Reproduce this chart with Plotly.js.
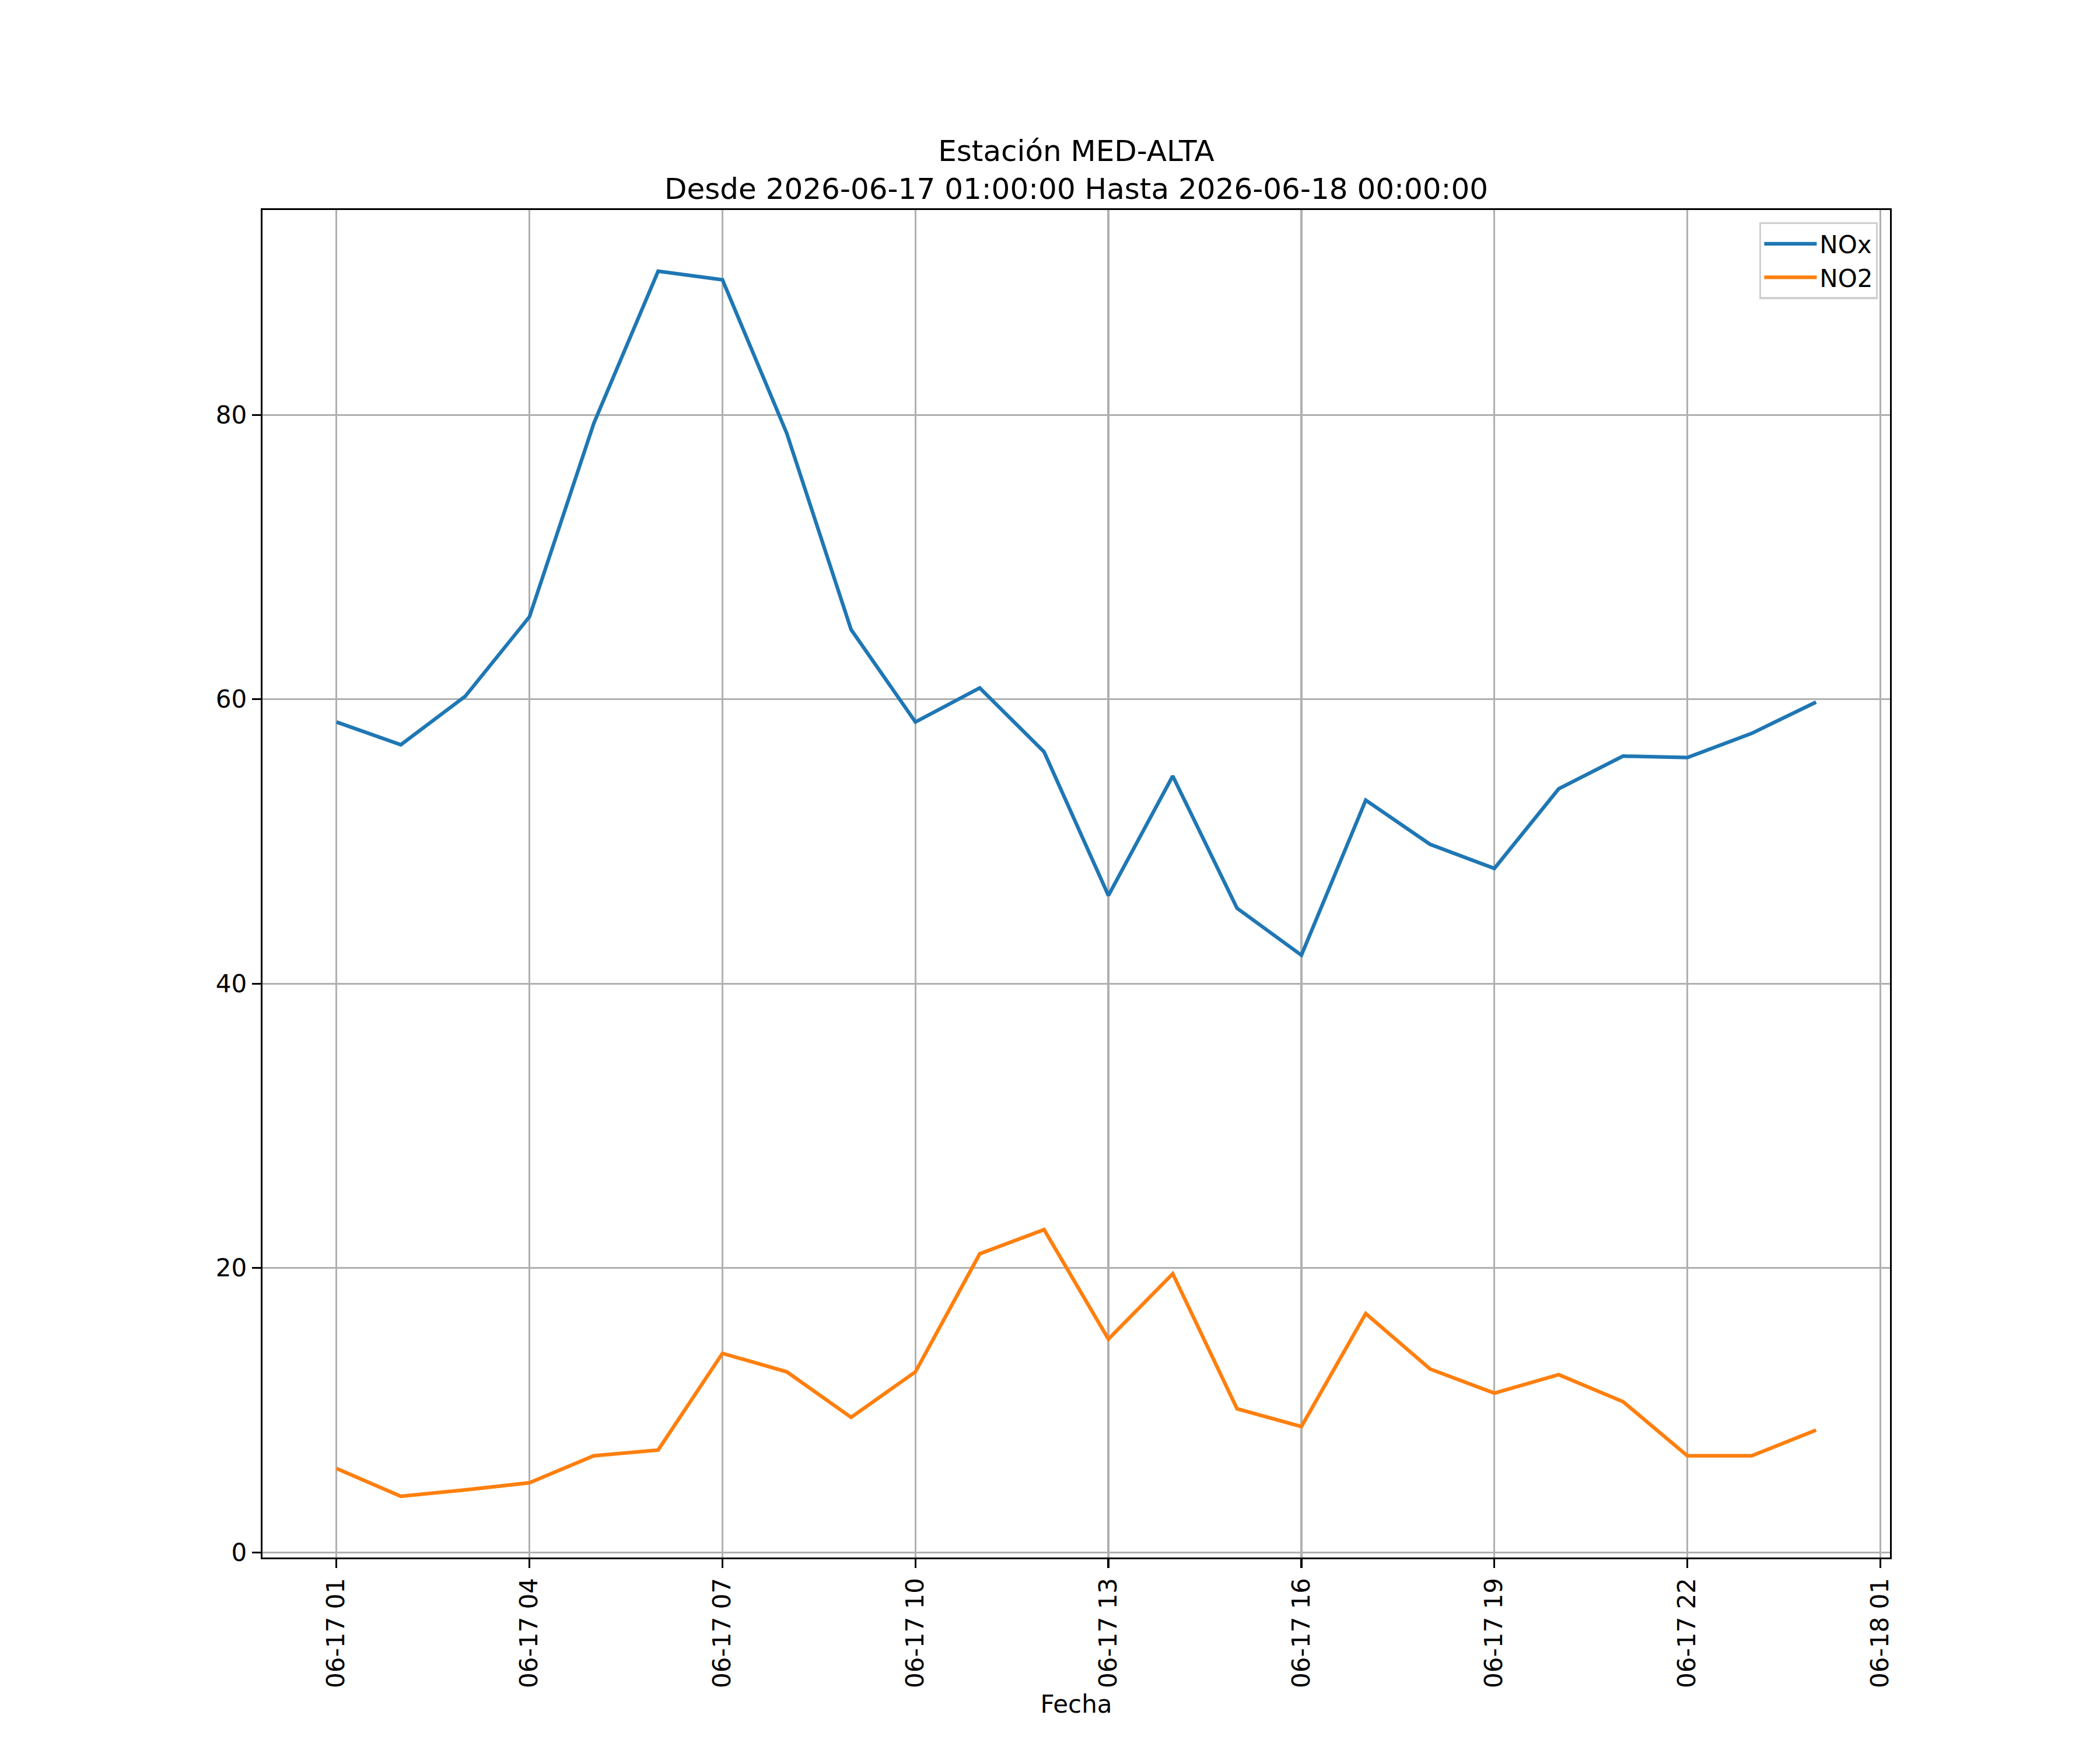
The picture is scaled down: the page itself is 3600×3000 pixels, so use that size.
<!DOCTYPE html>
<html>
<head>
<meta charset="utf-8">
<script src="https://cdn.plot.ly/plotly-3.0.1.min.js"></script>
<style>
  body { margin: 0; background: #fff; }
</style>
</head>
<body>
<div id="chart"></div>
<script>
// hourly readings, 2026-06-17 01:00 .. 2026-06-18 00:00
const hours = [
  "2026-06-17 01:00", "2026-06-17 02:00", "2026-06-17 03:00", "2026-06-17 04:00",
  "2026-06-17 05:00", "2026-06-17 06:00", "2026-06-17 07:00", "2026-06-17 08:00",
  "2026-06-17 09:00", "2026-06-17 10:00", "2026-06-17 11:00", "2026-06-17 12:00",
  "2026-06-17 13:00", "2026-06-17 14:00", "2026-06-17 15:00", "2026-06-17 16:00",
  "2026-06-17 17:00", "2026-06-17 18:00", "2026-06-17 19:00", "2026-06-17 20:00",
  "2026-06-17 21:00", "2026-06-17 22:00", "2026-06-17 23:00", "2026-06-18 00:00",
];
const nox = [
  58.4, 56.8, 60.2, 65.8, 79.4, 90.1, 89.5, 78.7,
  64.9, 58.4, 60.8, 56.3, 46.2, 54.6, 45.3, 42.0,
  52.9, 49.8, 48.1, 53.7, 56.0, 55.9, 57.6, 59.8,
];
const no2 = [
  5.9, 3.95, 4.4, 4.9, 6.8, 7.2, 14.0, 12.7,
  9.5, 12.7, 21.0, 22.7, 15.0, 19.6, 10.1, 8.85,
  16.8, 12.9, 11.2, 12.5, 10.6, 6.8, 6.8, 8.6,
];
const yTicks = [0, 20, 40, 60, 80];

const FONT = "DejaVu Sans, sans-serif";

// matplotlib-like 5% margins around the data
function pad(lo, hi) {
  const m = (hi - lo) * 0.05;
  return [lo - m, hi + m];
}
function toMs(s) {
  return Date.parse(s.replace(" ", "T") + ":00Z");
}
function fmt(ms) {
  return new Date(ms).toISOString().replace("T", " ").slice(0, 19);
}
const xr = pad(toMs(hours[0]), toMs(hours[hours.length - 1]));
const allY = nox.concat(no2);
const yr = pad(Math.min(...allY), Math.max(...allY));

const data = [
  {
    x: hours, y: nox, type: "scatter", mode: "lines", name: "NOx",
    line: { color: "#1f77b4", width: 6.25 },
  },
  {
    x: hours, y: no2, type: "scatter", mode: "lines", name: "NO2",
    line: { color: "#ff7f0e", width: 6.25 },
  },
];

const layout = {
  width: 3600,
  height: 3000,
  margin: { l: 450, r: 360, t: 360, b: 330 },
  paper_bgcolor: "#fff",
  plot_bgcolor: "#fff",
  font: { family: FONT, size: 42, color: "#000" },
  title: {
    text: "Estación MED-ALTA<br>Desde 2026-06-17 01:00:00 Hasta 2026-06-18 00:00:00",
    font: { family: FONT, size: 50, color: "#000" },
    x: 0.5 + (450 - 360) / 2 / 3600,
    xref: "container",
    xanchor: "center",
    y: 1 - 276 / 3000,
    yref: "container",
    yanchor: "top",
  },
  xaxis: {
    type: "date",
    range: [fmt(xr[0]), fmt(xr[1])],
    tick0: "2026-06-17 01:00",
    dtick: 3 * 3600 * 1000,
    tickformat: "%m-%d %H",
    tickangle: -90,
    ticks: "outside",
    ticklen: 15,
    tickwidth: 3.3,
    tickcolor: "#000",
    tickfont: { family: FONT, size: 42, color: "#000" },
    showgrid: true,
    gridcolor: "#b0b0b0",
    gridwidth: 3.3,
    zeroline: false,
    showline: true,
    linecolor: "#000",
    linewidth: 3.3,
    mirror: true,
    title: { text: "Fecha", font: { family: FONT, size: 42, color: "#000" }, standoff: 14 },
  },
  yaxis: {
    range: yr,
    tickvals: yTicks,
    ticks: "outside",
    ticklen: 15,
    tickwidth: 3.3,
    tickcolor: "#000",
    tickfont: { family: FONT, size: 42, color: "#000" },
    showgrid: true,
    gridcolor: "#b0b0b0",
    gridwidth: 3.3,
    zeroline: false,
    showline: true,
    linecolor: "#000",
    linewidth: 3.3,
    mirror: true,
  },
  showlegend: true,
  legend: {
    x: 0.9925,
    y: 0.991,
    xanchor: "right",
    yanchor: "top",
    bgcolor: "rgba(255,255,255,0.8)",
    bordercolor: "#d0d0d0",
    borderwidth: 3.3,
    itemwidth: 90,
    entrywidth: 205,
    font: { family: FONT, size: 42, color: "#000" },
    tracegroupgap: 0,
  },
};

Plotly.newPlot("chart", data, layout, { displayModeBar: false, staticPlot: true });
</script>
</body>
</html>
